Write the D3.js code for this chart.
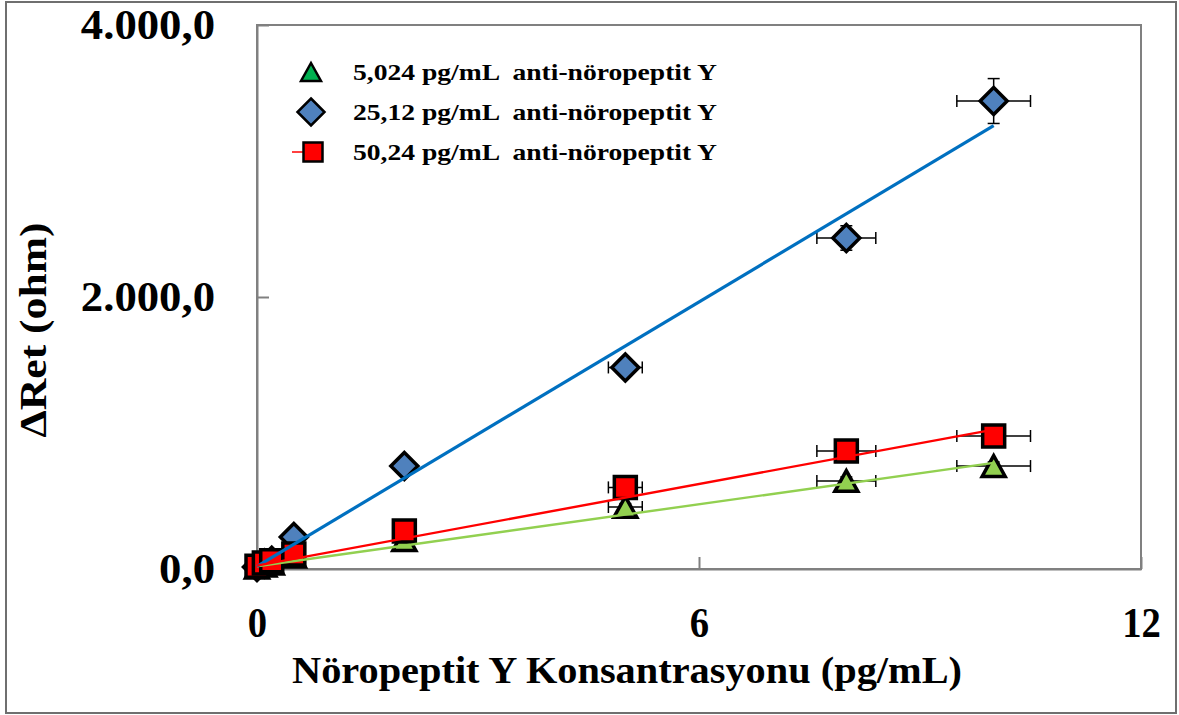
<!DOCTYPE html>
<html><head><meta charset="utf-8">
<script src="https://cdn.jsdelivr.net/npm/d3@7"></script>
<style>body{margin:0;background:#fff}svg{display:block}text{font-family:"Liberation Serif","Times New Roman",serif;font-weight:bold;fill:#000}</style>
</head><body>
<script>
const xValues = [0, 0.1, 0.2, 0.5, 2, 5, 8, 10];
const xErr = [0, 0, 0, 0, 0.1, 0.23, 0.4, 0.5];
const seriesNames = ["5,024 pg/mL  anti-nöropeptit Y", "25,12 pg/mL  anti-nöropeptit Y", "50,24 pg/mL  anti-nöropeptit Y"];
const triValues = [10, 25, 40, 90, 213, 456, 647, 757];
const diaValues = [15, 40, 60, 235, 757, 1482, 2434, 3441];
const sqValues = [20, 45, 60, 110, 279, 600, 868, 978];
const triErr = [0, 0, 0, 0, 15, 25, 30, 30];
const diaErr = [0, 0, 0, 0, 20, 30, 90, 165];
const sqErr = [0, 0, 0, 0, 15, 25, 30, 30];
const fitSlope = [76, 324, 100];
const fitIntercept = [20, 20, 25];
const xTicks = [0, 6, 12];
const yTicks = [0, 2000, 4000];
const xTitle = "Nöropeptit Y Konsantrasyonu (pg/mL)";
const yTitle = "ΔRet (ohm)";

const W = 1179, H = 715;
const svg = d3.select("body").append("svg").attr("width", W).attr("height", H);
svg.append("rect").attr("x", 6).attr("y", 2).attr("width", 1170).attr("height", 711)
  .attr("fill", "#fff").attr("stroke", "#6f6f6f").attr("stroke-width", 2);

const x = d3.scaleLinear().domain([0, 12]).range([257, 1141]);
const y = d3.scaleLinear().domain([0, 4000]).range([569, 25]);

svg.append("rect").attr("x", 257).attr("y", 25).attr("width", 884).attr("height", 544)
  .attr("fill", "none").attr("stroke", "#808080").attr("stroke-width", 2);

const fmtY = v => d3.format(",.1f")(v).replace(/,/g, "#").replace(".", ",").replace(/#/g, ".");

function stretch(sel, factor) {
  sel.each(function() {
    const w = this.getComputedTextLength();
    d3.select(this).attr("textLength", w * factor).attr("lengthAdjust", "spacingAndGlyphs");
  });
}

const gx = svg.append("g").attr("transform", "translate(0,569)")
  .call(d3.axisBottom(x).tickValues(xTicks).tickSize(-12).tickSizeOuter(0).tickPadding(38).tickFormat(d3.format("d")));
gx.select(".domain").attr("stroke", "#808080").attr("stroke-width", 2);
gx.selectAll(".tick line").attr("stroke", "#808080").attr("stroke-width", 2);
gx.selectAll(".tick text").attr("font-size", 42).attr("font-family", "Liberation Serif").attr("font-weight", "bold").attr("fill", "#000").attr("dy", "0.71em");
stretch(gx.selectAll(".tick text"), 0.92);

const gy = svg.append("g").attr("transform", "translate(257,0)")
  .call(d3.axisLeft(y).tickValues(yTicks).tickSize(-12).tickSizeOuter(0).tickPadding(42).tickFormat(fmtY));
gy.select(".domain").attr("stroke", "#808080").attr("stroke-width", 2);
gy.selectAll(".tick line").attr("stroke", "#808080").attr("stroke-width", 2);
gy.selectAll(".tick text").attr("font-size", 43).attr("font-family", "Liberation Serif").attr("font-weight", "bold").attr("fill", "#000");
stretch(gy.selectAll(".tick text"), 1.04);

svg.append("text").attr("x", 627).attr("y", 683).attr("text-anchor", "middle").attr("font-size", 38)
  .attr("textLength", 670).attr("lengthAdjust", "spacingAndGlyphs").text(xTitle);
svg.append("text").attr("transform", "translate(46,330) rotate(-90)").attr("text-anchor", "middle").attr("font-size", 37)
  .attr("textLength", 215).attr("lengthAdjust", "spacingAndGlyphs").text(yTitle);

const series = [
  {vals: triValues, err: triErr, fill: "#92D050", legFill: "#00B050", line: "#92D050", shape: "tri"},
  {vals: diaValues, err: diaErr, fill: "#4F81BD", legFill: "#4F81BD", line: "#0070C0", shape: "dia"},
  {vals: sqValues, err: sqErr, fill: "#FF0000", legFill: "#FF0000", line: "#FF0000", shape: "sq"}
];

function shapePath(shape, s) {
  if (shape === "tri") { const h = s * 0.9; return `M0,${-h/2}L${s/2},${h/2}L${-s/2},${h/2}Z`; }
  if (shape === "dia") { const r = s / 2; return `M0,${-r}L${r},0L0,${r}L${-r},0Z`; }
  const r = s / 2; return `M${-r},${-r}H${r}V${r}H${-r}Z`;
}
const sizes = {tri: 23, dia: 27, sq: 22};

const plot = svg.append("g");
series.forEach(s => {
  const g = plot.append("g");
  const pts = xValues.map((xv, i) => ({x: xv, y: s.vals[i], ex: xErr[i], ey: s.err[i]}));
  const eb = g.selectAll("g.eb").data(pts.filter(p => p.ex > 0 || p.ey > 0)).join("g").attr("stroke", "#000").attr("stroke-width", 1.5);
  eb.filter(p => p.ex > 0).each(function(p) {
    const e = d3.select(this);
    e.append("line").attr("x1", x(p.x - p.ex)).attr("x2", x(p.x + p.ex)).attr("y1", y(p.y)).attr("y2", y(p.y));
    e.append("line").attr("x1", x(p.x - p.ex)).attr("x2", x(p.x - p.ex)).attr("y1", y(p.y) - 6).attr("y2", y(p.y) + 6);
    e.append("line").attr("x1", x(p.x + p.ex)).attr("x2", x(p.x + p.ex)).attr("y1", y(p.y) - 6).attr("y2", y(p.y) + 6);
  });
  eb.filter(p => p.ey > 0).each(function(p) {
    const e = d3.select(this);
    e.append("line").attr("x1", x(p.x)).attr("x2", x(p.x)).attr("y1", y(p.y - p.ey)).attr("y2", y(p.y + p.ey));
    e.append("line").attr("x1", x(p.x) - 6).attr("x2", x(p.x) + 6).attr("y1", y(p.y - p.ey)).attr("y2", y(p.y - p.ey));
    e.append("line").attr("x1", x(p.x) - 6).attr("x2", x(p.x) + 6).attr("y1", y(p.y + p.ey)).attr("y2", y(p.y + p.ey));
  });
  g.selectAll("path.m").data(pts).join("path")
    .attr("transform", p => `translate(${x(p.x)},${y(p.y)})`)
    .attr("d", shapePath(s.shape, sizes[s.shape]))
    .attr("fill", s.fill).attr("stroke", "#000").attr("stroke-width", 3.5).attr("stroke-linejoin", "miter");
});
series.forEach((s, i) => {
  const x0 = d3.min(xValues), x1 = d3.max(xValues);
  plot.append("line").attr("x1", x(x0)).attr("y1", y(fitIntercept[i] + fitSlope[i] * x0))
    .attr("x2", x(x1)).attr("y2", y(fitIntercept[i] + fitSlope[i] * x1))
    .attr("stroke", s.line).attr("stroke-width", i === 1 ? 3.2 : 2.4);
});

const legY = [72, 112, 152];
const leg = svg.append("g");
series.forEach((s, i) => {
  if (s.shape === "sq") leg.append("line").attr("x1", 292).attr("x2", 304).attr("y1", legY[i]).attr("y2", legY[i]).attr("stroke", s.line).attr("stroke-width", 1.5);
  leg.append("path").attr("transform", `translate(${s.shape === "sq" ? 313 : 311},${legY[i]})`)
    .attr("d", shapePath(s.shape, s.shape === "tri" ? 20 : s.shape === "dia" ? 27 : 19))
    .attr("fill", s.legFill).attr("stroke", "#000").attr("stroke-width", 2.5);
  leg.append("text").attr("x", 353).attr("y", legY[i]).attr("dy", "0.35em").attr("font-size", 23)
    .attr("xml:space", "preserve").style("white-space", "pre")
    .attr("textLength", 364).attr("lengthAdjust", "spacingAndGlyphs").text(seriesNames[i]);
});
</script>
</body></html>
